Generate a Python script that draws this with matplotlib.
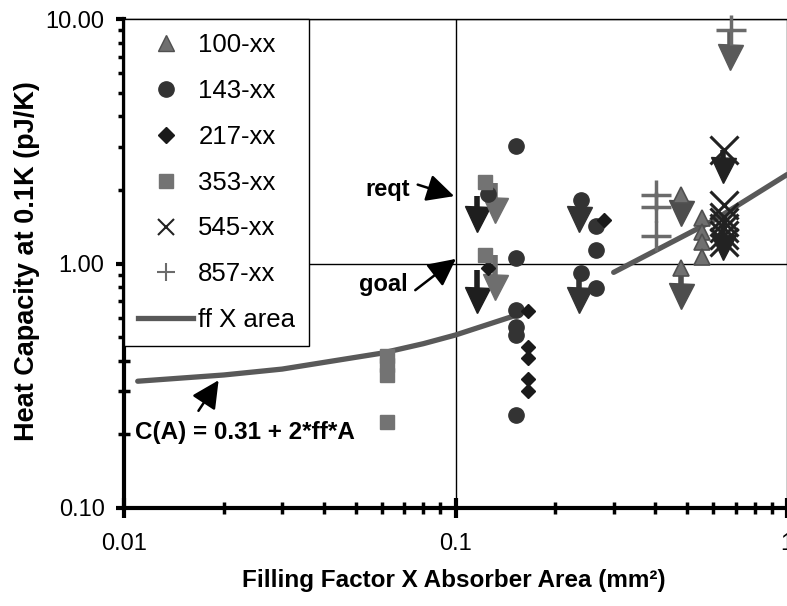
import numpy as np
import matplotlib
matplotlib.use("Agg")
import matplotlib.pyplot as plt
from matplotlib.lines import Line2D
from matplotlib.ticker import FixedLocator, LogLocator, NullFormatter

plt.rcParams['font.family'] = ['Liberation Sans', 'DejaVu Sans']

# --- data ---
x100 = [0.479, 0.479, 0.553, 0.553, 0.553, 0.553]
y100 = [1.90, 0.96, 1.53, 1.35, 1.22, 1.06]

x143 = [0.152, 0.125, 0.152, 0.152, 0.152, 0.152, 0.152, 0.239, 0.239, 0.265, 0.265, 0.265]
y143 = [3.03, 1.92, 1.05, 0.645, 0.55, 0.51, 0.24, 1.82, 0.914, 1.42, 1.135, 0.795]

x217 = [0.125, 0.166, 0.166, 0.166, 0.166, 0.166, 0.28]
y217 = [0.96, 0.64, 0.455, 0.41, 0.337, 0.30, 1.51]

x353 = [0.123, 0.123, 0.062, 0.062, 0.062, 0.062]
y353 = [2.15, 1.08, 0.42, 0.385, 0.35, 0.225]

x545 = [0.646, 0.646, 0.646, 0.646, 0.646, 0.646, 0.646]
y545 = [2.91, 1.73, 1.55, 1.48, 1.40, 1.31, 1.22]

x857 = [0.678, 0.402, 0.402, 0.402]
y857 = [9.0, 1.90, 1.70, 1.29]

# model line C(A) = 0.31 + 2*ff*A  (gap between the two pieces)
ff_x = [0.011, 0.02, 0.03, 0.06, 0.08, 0.1, 0.15, np.nan, 0.3, 0.6, 1.0]
ff_y = [0.33, 0.35, 0.37, 0.43, 0.47, 0.51, 0.61, np.nan, 0.92, 1.5, 2.31]

# upper-limit arrows: x, start, arrow head, series
arr_x = [0.116, 0.116, 0.1315, 0.1315, 0.236, 0.236, 0.479, 0.479, 0.641, 0.641, 0.673]
arr_y0 = [1.89, 0.94, 2.13, 1.08, 1.82, 0.906, 1.90, 0.96, 2.91, 1.44, 9.0]
arr_y1 = [1.52, 0.71, 1.66, 0.80, 1.52, 0.71, 1.61, 0.736, 2.41, 1.17, 7.0]
arr_series = ['217', '217', '353', '353', '143', '143', '100', '100', '545', '545', '857']

xticks = [0.01, 0.1, 1]
xticklabels = ['0.01', '0.1', '1']
yticks = [0.1, 1, 10]
yticklabels = ['0.10', '1.00', '10.00']

col = {'100': '#707070', '143': '#333333', '217': '#1a1a1a',
       '353': '#737373', '545': '#222222', '857': '#6b6b6b'}
arrcol = {'100': '#4d4d4d', '143': '#333333', '217': '#1e1e1e',
          '353': '#6e6e6e', '545': '#222222', '857': '#5a5a5a'}

fig = plt.figure(figsize=(7.87, 6.06), dpi=100)
ax = fig.add_axes([124/787, 1-508/606, 663/787, 489/606])
ax.set_xscale('log')
ax.set_yscale('log')
ax.set_xlim(0.01, 1)
ax.set_ylim(0.1, 10)

ax.grid(True, which='major', color='black', lw=1)
ax.set_axisbelow(True)

# arrows first, markers on top
for xa, ya, yb, s in zip(arr_x, arr_y0, arr_y1, arr_series):
    ax.plot([xa, xa], [ya, yb], color=arrcol[s], lw=4, solid_capstyle='butt', zorder=3)
    ax.plot([xa], [yb], marker='v', ms=18, color=arrcol[s], mec=arrcol[s], ls='none', zorder=3)

ax.plot(ff_x, ff_y, color='#595959', lw=3.8, solid_capstyle='round', zorder=4)

ax.plot(x100, y100, '^', ms=11, color=col['100'], mec='#505050', mew=1.2, zorder=5)
ax.plot(x143, y143, 'o', ms=11, color=col['143'], mec=col['143'], zorder=5)
ax.plot(x217, y217, 'D', ms=7.5, color=col['217'], mec=col['217'], zorder=5)
ax.plot(x353, y353, 's', ms=10.5, color=col['353'], mec=col['353'], zorder=5)
ax.plot(x545, y545, 'x', ms=20, color=col['545'], mew=2.2, zorder=5)
ax.plot(x857, y857, '+', ms=21, color=col['857'], mew=2.5, zorder=5, clip_on=False)

# axes styling
for side in ['left', 'bottom']:
    ax.spines[side].set_linewidth(3)
ax.spines['top'].set_linewidth(1)
ax.spines['right'].set_visible(False)

ax.xaxis.set_major_locator(FixedLocator(xticks))
ax.set_xticklabels(xticklabels)
ax.yaxis.set_major_locator(FixedLocator(yticks))
ax.set_yticklabels(yticklabels)
ax.xaxis.set_minor_locator(LogLocator(base=10, subs=np.arange(2, 10)))
ax.yaxis.set_minor_locator(LogLocator(base=10, subs=np.arange(2, 10)))
ax.xaxis.set_minor_formatter(NullFormatter())
ax.yaxis.set_minor_formatter(NullFormatter())

ax.tick_params(axis='x', which='major', direction='inout', length=14, width=3, labelsize=17, pad=11)
ax.tick_params(axis='y', which='major', direction='out', length=6, width=3, labelsize=17, pad=8)
ax.tick_params(which='minor', direction='inout', length=8, width=2.5)

ax.set_xlabel('Filling Factor X Absorber Area (mm²)', fontsize=17.5, fontweight='bold')
ax.set_ylabel('Heat Capacity at 0.1K (pJ/K)', fontsize=19.5, fontweight='bold')
ax.xaxis.set_label_coords(0.498, -0.124)
ax.yaxis.set_label_coords(-0.126, 0.505)

# annotations
akw = dict(arrowstyle='-|>', color='black', lw=1.8, mutation_scale=42)
ax.annotate('', xy=(0.502, 0.636), xytext=(0.439, 0.663), xycoords='axes fraction',
            arrowprops=akw)
ax.text(0.432, 0.652, 'reqt', transform=ax.transAxes, ha='right', va='center',
        fontsize=17, fontweight='bold')
ax.annotate('', xy=(0.504, 0.513), xytext=(0.436, 0.442), xycoords='axes fraction',
            arrowprops=akw)
ax.text(0.428, 0.458, 'goal', transform=ax.transAxes, ha='right', va='center',
        fontsize=17, fontweight='bold')
ax.annotate('', xy=(0.145, 0.266), xytext=(0.110, 0.194), xycoords='axes fraction',
            arrowprops=akw)
ax.text(0.016, 0.155, 'C(A) = 0.31 + 2*ff*A', transform=ax.transAxes, ha='left', va='center',
        fontsize=17.5, fontweight='bold')

# legend
handles = [
    Line2D([], [], ls='none', marker='^', ms=11, color=col['100'], mec='#505050'),
    Line2D([], [], ls='none', marker='o', ms=11, color=col['143']),
    Line2D([], [], ls='none', marker='D', ms=8, color=col['217']),
    Line2D([], [], ls='none', marker='s', ms=10.5, color=col['353']),
    Line2D([], [], ls='none', marker='x', ms=11, mew=1.5, color='#222222'),
    Line2D([], [], ls='none', marker='+', ms=13, mew=1.5, color=col['857']),
    Line2D([], [], color='#595959', lw=3.8),
]
labels = ['100-xx', '143-xx', '217-xx', '353-xx', '545-xx', '857-xx', 'ff X area']
leg = ax.legend(handles, labels, loc='upper left', bbox_to_anchor=(0, 1), borderaxespad=0,
                fontsize=18.5, frameon=True, fancybox=False, framealpha=1, edgecolor='black',
                labelspacing=0.85, handlelength=2.14, handletextpad=0.2, borderpad=0.55)
leg.get_frame().set_linewidth(1)
leg.set_zorder(10)

fig.savefig('out.png', dpi=100)
